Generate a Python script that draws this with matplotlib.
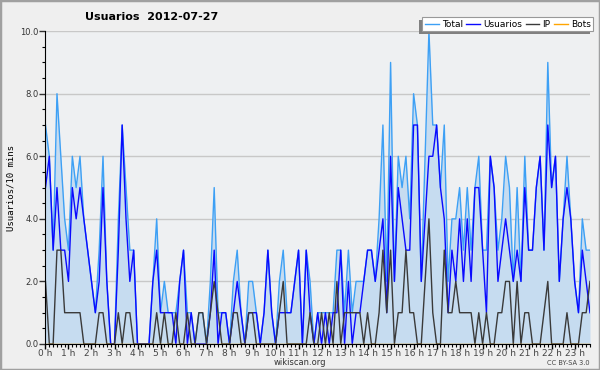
import matplotlib.pyplot as plt
from matplotlib.patches import Rectangle
from matplotlib.transforms import IdentityTransform
from matplotlib.ticker import MultipleLocator, FixedLocator

# one value every 10 minutes, 00:00 .. 23:40
usuarios = [5, 6, 3, 5, 3, 3, 2, 5, 4, 5, 4, 3, 2, 1, 2, 5, 2, 0, 0, 3,
            7, 4, 2, 3, 0, 0, 0, 0, 2, 3, 1, 1, 1, 1, 0, 2, 3, 0, 1, 0,
            0, 0, 0, 1, 3, 0, 1, 1, 0, 1, 2, 1, 0, 1, 1, 1, 0, 1, 3, 1,
            0, 1, 1, 1, 1, 2, 3, 0, 3, 1, 0, 1, 0, 1, 0, 1, 1, 3, 0, 2,
            0, 1, 1, 2, 3, 3, 2, 3, 4, 1, 6, 2, 5, 4, 3, 3, 7, 7, 2, 4,
            6, 6, 7, 5, 4, 1, 3, 2, 4, 2, 4, 2, 5, 5, 3, 1, 6, 5, 2, 3,
            4, 3, 2, 3, 2, 5, 3, 3, 5, 6, 3, 7, 5, 6, 2, 4, 5, 4, 2, 1,
            3, 2, 1]
ip = [2, 0, 0, 3, 3, 1, 1, 1, 1, 1, 0, 0, 0, 0, 1, 1, 0, 0, 0, 1,
      0, 1, 1, 0, 0, 0, 0, 0, 0, 1, 0, 1, 0, 0, 1, 0, 0, 1, 0, 0,
      1, 1, 0, 1, 2, 1, 0, 0, 0, 1, 1, 0, 0, 1, 1, 0, 0, 0, 0, 0,
      0, 1, 2, 0, 0, 0, 0, 0, 0, 1, 0, 0, 1, 0, 1, 0, 2, 0, 1, 1,
      1, 1, 1, 0, 1, 0, 0, 1, 3, 1, 3, 0, 1, 1, 3, 1, 1, 0, 0, 2,
      4, 1, 0, 0, 3, 1, 1, 2, 1, 1, 1, 1, 0, 1, 0, 1, 0, 0, 1, 1,
      2, 2, 0, 2, 0, 1, 1, 0, 0, 0, 1, 2, 0, 0, 0, 0, 1, 0, 0, 0,
      1, 1, 2]
total = [7, 6, 3, 8, 6, 4, 3, 6, 5, 6, 4, 3, 2, 1, 3, 6, 2, 0, 0, 4,
         7, 5, 3, 3, 0, 0, 0, 0, 2, 4, 1, 2, 1, 1, 1, 2, 3, 1, 1, 0,
         1, 1, 0, 2, 5, 1, 1, 1, 0, 2, 3, 1, 0, 2, 2, 1, 0, 1, 3, 1,
         0, 2, 3, 1, 1, 2, 3, 0, 3, 2, 0, 1, 1, 1, 1, 1, 3, 3, 1, 3,
         1, 2, 2, 2, 3, 3, 2, 4, 7, 2, 9, 2, 6, 5, 6, 4, 8, 7, 2, 6,
         10, 7, 7, 5, 7, 2, 4, 4, 5, 3, 5, 3, 5, 6, 3, 3, 6, 5, 3, 4,
         6, 5, 2, 5, 2, 6, 3, 3, 5, 6, 3, 9, 5, 6, 2, 4, 6, 4, 2, 1,
         4, 3, 3]
bots = [0] * len(total)

hour_labels = ['%d h' % h for h in range(24)]
x = list(range(len(total)))

fig = plt.figure(figsize=(6, 3.7), dpi=100, facecolor='#efefef')
ax = fig.add_axes([0.0758, 0.0703, 0.9075, 0.8455])
ax.set_facecolor('#eef0f2')

ax.fill_between(x, total, 0, color='#c6dcf0', linewidth=0)
ax.plot(x, total, color='#3da0f5', lw=1, label='Total')
ax.plot(x, usuarios, color='#0a0aff', lw=1, label='Usuarios')
ax.plot(x, ip, color='#3a3a3a', lw=1, label='IP')
ax.plot(x, bots, color='#ffa500', lw=1, label='Bots')

ax.set_xlim(0, len(total) - 1)
ax.set_ylim(0, 10)

ax.yaxis.set_major_locator(MultipleLocator(2))
ax.yaxis.set_minor_locator(MultipleLocator(0.5))
ax.set_yticklabels(['%.1f' % v for v in ax.get_yticks()])
ax.xaxis.set_major_locator(FixedLocator([h * 6 for h in range(24)]))
ax.xaxis.set_minor_locator(MultipleLocator(1))
ax.set_xticklabels(hour_labels)
ax.tick_params(axis='y', which='major', length=4, width=1, labelsize=6,
               colors='#333333', pad=1)
ax.tick_params(axis='x', which='major', length=3.5, width=1, labelsize=6.5,
               colors='black', labelcolor='#444444', pad=0)
ax.tick_params(axis='both', which='minor', length=2.5, width=0.8)

ax.grid(True, axis='y', color='#c8c8c8', lw=1)
ax.set_axisbelow(True)
for side in ['top', 'right']:
    ax.spines[side].set_visible(False)
ax.spines['left'].set_color('black')
ax.spines['bottom'].set_color('black')

ax.set_ylabel('Usuarios/10 mins', fontsize=6.5, family='DejaVu Sans Mono',
              labelpad=3)
fig.text(0.252, 0.955, 'Usuarios  2012-07-27', fontsize=8,
         fontweight='bold', ha='center', va='center')
fig.text(0.5, 0.02, 'wikiscan.org', fontsize=6, color='#333333',
         ha='center', va='center')
fig.text(0.982, 0.02, 'CC BY-SA 3.0', fontsize=4.8, color='#444444',
         ha='right', va='center')

leg = ax.legend(loc='upper right', bbox_to_anchor=(1.006, 1.045), ncol=4,
                fontsize=6.5, frameon=True, fancybox=False, shadow=False,
                framealpha=1, edgecolor='#999999', handlelength=1.5,
                handletextpad=0.35, columnspacing=0.4, borderpad=0.3,
                borderaxespad=0)
leg.get_frame().set_linewidth(0.8)
leg.set_zorder(10)

# grey drop shadow on the left/bottom side of the legend box
fig.canvas.draw()
bb = leg.get_window_extent()
ax.add_patch(Rectangle((bb.x0 - 3, bb.y0 - 3), bb.width, bb.height,
                       transform=IdentityTransform(), facecolor='#808080',
                       edgecolor='none', zorder=9, clip_on=False))

fig.patches.append(Rectangle((0, 0), 1, 1, transform=fig.transFigure,
                             fill=False, edgecolor='#a0a0a0', lw=2.5))

fig.savefig('out.png', dpi=100, facecolor=fig.get_facecolor())
